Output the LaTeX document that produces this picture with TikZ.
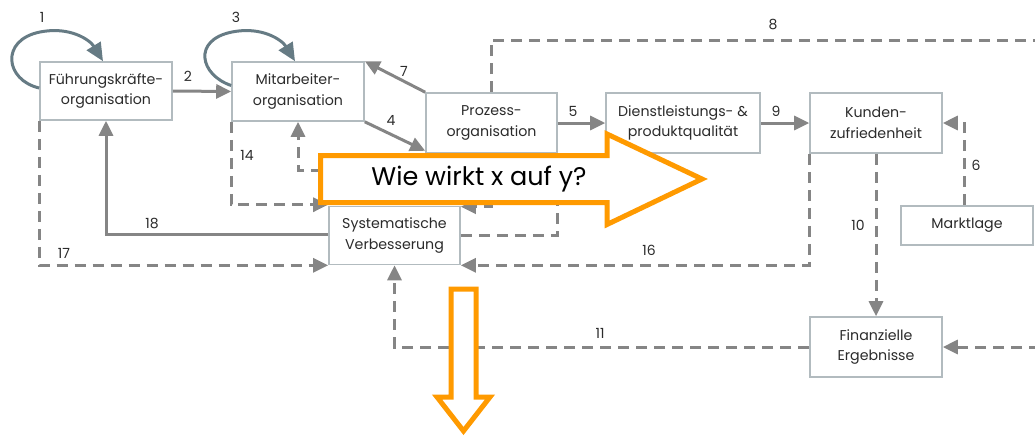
\documentclass[tikz,border=0pt]{standalone}
\usepackage{fontspec}
\setmainfont{Poppins}
\usetikzlibrary{arrows.meta}
\definecolor{boxline}{HTML}{B2BBBF}
\definecolor{connc}{HTML}{858585}
\definecolor{loopc}{HTML}{667B84}
\definecolor{orng}{HTML}{FF9A00}
\definecolor{txt}{HTML}{2B2B2B}
\begin{document}
\begin{tikzpicture}[x=1pt,y=-1pt,
  box/.style={draw=boxline, line width=1.6pt, fill=white, align=center, inner sep=0pt,
    text=txt, font=\fontsize{14.2}{20.5}\selectfont},
  conn/.style={draw=connc, line width=3pt},
  arr/.style={conn, -{Triangle[length=15pt,width=14pt]}},
  dline/.style={conn, dash pattern=on 11pt off 7pt},
  darr/.style={arr, dash pattern=on 11pt off 7pt},
  loopar/.style={draw=loopc, line width=3pt, -{Triangle[length=18pt,width=16pt]}},
  num/.style={text=txt, font=\fontsize{14}{14}\selectfont, inner sep=0pt},
  bigarrow/.style={draw=orng, line width=5pt, fill=white, line join=miter}
]
\useasboundingbox (0,0) rectangle (1035,437);

% boxes
\node[box, minimum width=132pt, minimum height=58pt] (F) at (106,91) {Führungskräfte-\\organisation};
\node[box, minimum width=132pt, minimum height=59pt] (M) at (298,91.5) {Mitarbeiter-\\organisation};
\node[box, minimum width=131pt, minimum height=60pt] (P) at (491.5,123) {Prozess-\\organisation};
\node[box, minimum width=154pt, minimum height=60pt] (D) at (683,123) {Dienstleistungs- \&\\produktqualität};
\node[box, minimum width=132pt, minimum height=60pt] (K) at (876,123) {Kunden-\\zufriedenheit};
\node[box, minimum width=132pt, minimum height=39pt] (Mk) at (967,225.5) {Marktlage};
\node[box, minimum width=132pt, minimum height=60pt] (Fin) at (876,347) {Finanzielle\\Ergebnisse};
\node[box, minimum width=131pt, minimum height=58pt] (S) at (394.5,235.5) {Systematische\\Verbesserung};

% free ends
\coordinate (e8) at (1040,40);
\coordinate (eFin) at (1040,347);
\coordinate (h15) at (340,170);
\coordinate (h12) at (491,185);
\coordinate (h13) at (557,185);

% self loops
\draw[loopar] ([yshift=3pt]F.west) .. controls (5,80) and (0,40) .. (40,32)
  .. controls (70,26) and (90,40) .. ([xshift=-3pt]F.north);
\draw[loopar] ([yshift=6pt]M.west) .. controls (200,75) and (192,40) .. (232,32)
  .. controls (262,26) and (282,40) .. ([xshift=-3pt]M.north);

% solid connectors
\draw[arr] (F.east) -- (M.west);
\draw[arr] (P.north west) -- (M.north east);
\draw[arr] (M.south east) -- ([yshift=3pt]P.south west);
\draw[arr] (P.east) -- (D.west);
\draw[arr] (D.east) -- (K.west);
\draw[arr] ([yshift=1.5pt]S.west) -| (F.south);

% dashed connectors
\draw[dline] (P.north) |- (e8);
\draw[darr] ([xshift=-3pt]Mk.north) |- (K.east);
\draw[darr] (K.south) -- (Fin.north);
\draw[darr] (K.south west) |- (S.south east);
\draw[darr] (Fin.west) -| (S.south);
\draw[darr] (eFin) -- (Fin.east);
\draw[darr] (F.south west) |- (S.south west);
\draw[darr] (M.south west) |- ([yshift=1pt]S.north west);
\draw[darr] (h15) -| (M.south);
\draw[darr] (h12) |- ([yshift=-1pt]S.north east);
\draw[dline] (S.east) -| (h13);

% connector labels
\node[num] (n1) at (42,17) {1};
\node[num] (n2) at (188,76) {2};
\node[num] (n3) at (236,17) {3};
\node[num] (n4) at (391,120) {4};
\node[num] (n5) at (573,111) {5};
\node[num] (n6) at (976,165) {6};
\node[num] (n7) at (404,71) {7};
\node[num] (n8) at (773,24) {8};
\node[num] (n9) at (776,111) {9};
\node[num] (n10) at (858,225) {10};
\node[num] (n11) at (600,333) {11};
\node[num] (n13) at (570,198) {13};
\node[num] (n14) at (247,155) {14};
\node[num] (n16) at (649,250) {16};
\node[num] (n17) at (64,253) {17};
\node[num] (n18) at (152,223) {18};

% question arrow and downward arrow
\draw[bigarrow] (320.5,155.5) -- (607,155.5) -- (607,134) -- (702,179) -- (607,224.5)
  -- (607,202.5) -- (320.5,202.5) -- cycle;
\node[text=black, font=\fontsize{25.5}{25.5}\selectfont] (q) at (479,179) {Wie wirkt x auf y?};
\draw[bigarrow] (451,289) -- (476,289) -- (476,397) -- (490,397) -- (463.5,431)
  -- (437,397) -- (451,397) -- cycle;
\end{tikzpicture}
\end{document}
